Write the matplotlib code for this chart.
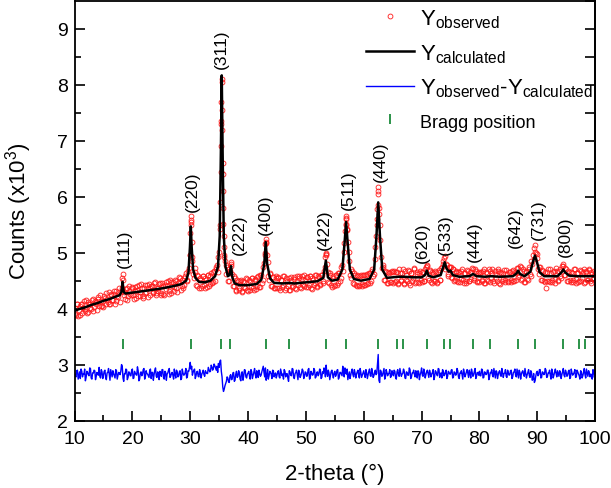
import numpy as np
import matplotlib
matplotlib.use('Agg')
import matplotlib.pyplot as plt
from matplotlib.lines import Line2D

plt.rcParams['font.family'] = ['Liberation Sans', 'DejaVu Sans']
plt.rcParams['mathtext.default'] = 'regular'

# observed pattern, 2-theta grid 10..100 step 0.25
obs_x = np.arange(10.0, 100.01, 0.25)
obs_y = [
    4.01, 3.89, 4.09, 3.97, 3.88, 4.08, 4.02, 3.96, 4.16, 3.94, 4.08, 4.02, 4.16, 3.95, 4.14, 4.08, 4.20, 4.04, 4.14, 4.04,
    4.03, 4.19, 4.28, 4.12, 4.08, 4.26, 4.16, 4.26, 4.09, 4.32, 4.21, 4.29, 4.29, 4.55, 4.30, 4.17, 4.36, 4.22, 4.40, 4.24,
    4.36, 4.17, 4.32, 4.41, 4.23, 4.30, 4.44, 4.22, 4.37, 4.28, 4.42, 4.20, 4.36, 4.41, 4.28, 4.46, 4.25, 4.36, 4.32, 4.45,
    4.28, 4.41, 4.24, 4.47, 4.40, 4.32, 4.51, 4.28, 4.47, 4.39, 4.50, 4.30, 4.47, 4.55, 4.40, 4.36, 4.54, 4.63, 4.52, 4.73,
    5.35, 5.20, 4.62, 4.72, 4.42, 4.60, 4.37, 4.55, 4.40, 4.58, 4.36, 4.52, 4.60, 4.41, 4.58, 4.45, 4.66, 4.50, 4.74, 4.66,
    5.02, 6.45, 7.55, 5.52, 4.85, 4.78, 4.50, 4.70, 4.84, 4.62, 4.40, 4.55, 4.33, 4.50, 4.34, 4.51, 4.30, 4.47, 4.36, 4.53,
    4.31, 4.50, 4.38, 4.55, 4.34, 4.52, 4.40, 4.58, 4.38, 4.60, 4.52, 4.82, 5.15, 4.95, 4.58, 4.62, 4.40, 4.57, 4.37, 4.55,
    4.37, 4.54, 4.33, 4.51, 4.42, 4.58, 4.36, 4.49, 4.55, 4.34, 4.52, 4.40, 4.57, 4.35, 4.49, 4.58, 4.38, 4.53, 4.42, 4.60,
    4.38, 4.56, 4.43, 4.59, 4.35, 4.52, 4.46, 4.61, 4.40, 4.57, 4.44, 4.60, 4.50, 4.75, 4.96, 4.66, 4.45, 4.60, 4.39, 4.55,
    4.42, 4.60, 4.45, 4.64, 4.55, 4.78, 5.02, 5.38, 5.60, 5.20, 4.85, 4.55, 4.68, 4.44, 4.61, 4.40, 4.58, 4.43, 4.60, 4.41,
    4.60, 4.42, 4.62, 4.45, 4.64, 4.50, 4.70, 4.62, 5.10, 5.50, 6.05, 5.50, 4.92, 4.78, 4.52, 4.68, 4.46, 4.65, 4.47, 4.66,
    4.46, 4.68, 4.49, 4.66, 4.44, 4.63, 4.52, 4.70, 4.45, 4.61, 4.50, 4.68, 4.43, 4.64, 4.54, 4.71, 4.47, 4.62, 4.45, 4.67,
    4.48, 4.66, 4.50, 4.74, 4.78, 4.52, 4.68, 4.45, 4.64, 4.49, 4.66, 4.47, 4.69, 4.52, 4.75, 4.86, 4.94, 4.80, 4.62, 4.74,
    4.75, 4.55, 4.70, 4.51, 4.66, 4.48, 4.65, 4.53, 4.70, 4.46, 4.63, 4.50, 4.68, 4.49, 4.66, 4.72, 4.55, 4.70, 4.49, 4.64,
    4.47, 4.66, 4.52, 4.70, 4.45, 4.63, 4.50, 4.68, 4.54, 4.71, 4.46, 4.62, 4.49, 4.67, 4.44, 4.64, 4.53, 4.69, 4.47, 4.62,
    4.49, 4.66, 4.51, 4.69, 4.50, 4.64, 4.72, 4.56, 4.76, 4.52, 4.70, 4.48, 4.66, 4.53, 4.75, 4.62, 4.86, 4.96, 5.08, 5.00,
    4.90, 4.62, 4.75, 4.52, 4.68, 4.48, 4.36, 4.66, 4.50, 4.70, 4.47, 4.65, 4.53, 4.72, 4.49, 4.68, 4.58, 4.76, 4.79, 4.60,
    4.70, 4.50, 4.66, 4.47, 4.64, 4.52, 4.70, 4.46, 4.63, 4.49, 4.68, 4.54, 4.71, 4.48, 4.65, 4.51, 4.69, 4.46, 4.62, 4.55,
    4.60,
]
# second set of observed points, between the grid above (10.125..99.875)
obs2_x = np.arange(10.125, 100.0, 0.25)
obs2_y = [
    3.91, 4.08, 3.86, 4.04, 4.08, 3.92, 4.14, 4.00, 3.93, 4.11, 4.08, 3.99, 4.18, 4.03, 4.12, 3.98, 4.18, 4.25, 4.05, 4.14,
    4.23, 4.08, 4.18, 4.29, 4.08, 4.24, 4.15, 4.31, 4.13, 4.23, 4.36, 4.12, 4.36, 4.52, 4.24, 4.35, 4.16, 4.32, 4.26, 4.39,
    4.24, 4.38, 4.19, 4.33, 4.43, 4.23, 4.37, 4.19, 4.42, 4.30, 4.37, 4.44, 4.24, 4.41, 4.30, 4.48, 4.28, 4.37, 4.44, 4.24,
    4.46, 4.27, 4.42, 4.35, 4.50, 4.27, 4.47, 4.41, 4.31, 4.52, 4.36, 4.45, 4.56, 4.33, 4.52, 4.43, 4.58, 4.50, 4.67, 4.95,
    5.55, 4.92, 4.55, 4.66, 4.40, 4.58, 4.52, 4.36, 4.59, 4.42, 4.55, 4.38, 4.61, 4.44, 4.63, 4.48, 4.68, 4.70, 4.78, 4.92,
    5.42, 7.35, 6.40, 4.92, 4.62, 4.75, 4.49, 4.68, 4.76, 4.41, 4.58, 4.32, 4.52, 4.36, 4.50, 4.31, 4.49, 4.38, 4.54, 4.33,
    4.52, 4.33, 4.55, 4.36, 4.53, 4.35, 4.57, 4.39, 4.60, 4.45, 4.74, 5.00, 5.18, 4.83, 4.52, 4.64, 4.41, 4.56, 4.36, 4.58,
    4.56, 4.36, 4.52, 4.39, 4.59, 4.34, 4.55, 4.41, 4.33, 4.57, 4.38, 4.53, 4.36, 4.58, 4.42, 4.55, 4.37, 4.59, 4.40, 4.52,
    4.57, 4.39, 4.58, 4.37, 4.55, 4.42, 4.60, 4.38, 4.59, 4.43, 4.61, 4.45, 4.68, 4.92, 4.80, 4.48, 4.63, 4.42, 4.59, 4.41,
    4.60, 4.43, 4.63, 4.49, 4.74, 4.68, 5.18, 5.52, 5.42, 5.02, 4.60, 4.70, 4.46, 4.63, 4.42, 4.60, 4.41, 4.59, 4.44, 4.61,
    4.42, 4.61, 4.44, 4.63, 4.46, 4.68, 4.58, 4.88, 5.30, 5.78, 5.70, 5.22, 4.72, 4.74, 4.52, 4.66, 4.45, 4.64, 4.48, 4.67,
    4.66, 4.47, 4.65, 4.45, 4.70, 4.49, 4.63, 4.44, 4.67, 4.52, 4.69, 4.46, 4.64, 4.50, 4.72, 4.45, 4.66, 4.48, 4.63, 4.51,
    4.66, 4.49, 4.70, 4.76, 4.55, 4.69, 4.47, 4.65, 4.50, 4.68, 4.46, 4.66, 4.52, 4.72, 4.80, 4.90, 4.70, 4.78, 4.58, 4.75,
    4.57, 4.70, 4.50, 4.67, 4.49, 4.66, 4.47, 4.68, 4.52, 4.64, 4.45, 4.69, 4.50, 4.66, 4.53, 4.71, 4.51, 4.67, 4.48, 4.65,
    4.64, 4.49, 4.68, 4.46, 4.65, 4.52, 4.70, 4.47, 4.63, 4.50, 4.67, 4.54, 4.71, 4.45, 4.66, 4.49, 4.64, 4.52, 4.69, 4.48,
    4.66, 4.48, 4.67, 4.50, 4.66, 4.52, 4.73, 4.60, 4.74, 4.53, 4.68, 4.47, 4.67, 4.51, 4.70, 4.58, 4.80, 4.88, 5.02, 4.98,
    4.70, 4.75, 4.52, 4.69, 4.49, 4.66, 4.50, 4.70, 4.47, 4.64, 4.52, 4.68, 4.46, 4.67, 4.51, 4.70, 4.55, 4.77, 4.60, 4.72,
    4.49, 4.68, 4.51, 4.66, 4.47, 4.70, 4.53, 4.64, 4.48, 4.69, 4.50, 4.66, 4.45, 4.67, 4.52, 4.70, 4.49, 4.65, 4.53, 4.68,
]
# extra observed points measured on the peak flanks
peak_obs_x = [18.30, 29.90, 30.05, 30.10, 30.15, 30.35, 35.15, 35.20, 35.30, 35.35, 35.40, 35.45, 35.48,
              35.55, 35.60, 35.65, 35.70, 35.80, 35.85, 35.90, 37.10, 42.90, 43.05, 43.10, 53.40, 53.45,
              56.85, 56.90, 56.95, 57.10, 62.35, 62.40, 62.45, 62.55, 62.60, 89.60]
peak_obs_y = [4.62, 4.95, 5.58, 5.66, 5.50, 4.85, 5.50, 5.90, 6.90, 7.30, 7.70, 8.05, 8.10,
              7.20, 6.60, 6.10, 5.80, 5.30, 5.10, 4.95, 4.80, 4.95, 5.25, 5.20, 4.98, 5.00,
              5.50, 5.66, 5.62, 5.40, 5.60, 5.85, 6.18, 6.10, 5.80, 5.13]

# calculated profile
calc_x = [10.0, 11.0, 12.0, 13.0, 14.0, 15.0, 16.0, 17.0, 17.8, 18.1, 18.3, 18.5, 18.8, 19.5, 21.0, 23.0,
          25.0, 27.0, 28.5, 29.3, 29.7, 29.95, 30.1, 30.25, 30.5, 30.9, 31.5, 32.5, 33.5, 34.3, 34.8,
          35.1, 35.3, 35.45, 35.6, 35.8, 36.1, 36.5, 36.8, 37.05, 37.3, 37.7, 38.5, 40.0, 41.5, 42.3,
          42.8, 43.05, 43.3, 43.8, 44.5, 46.0, 47.0, 48.0, 50.0, 52.0, 53.0, 53.45, 53.8, 54.5, 55.5,
          56.3, 56.7, 56.95, 57.2, 57.6, 58.3, 59.5, 61.0, 61.8, 62.2, 62.5, 62.8, 63.2, 64.0, 65.0,
          66.0, 67.0, 68.5, 70.0, 70.6, 70.9, 71.2, 72.0, 73.3, 73.75, 74.0, 74.3, 74.7, 75.0, 75.4,
          76.5, 78.3, 78.9, 79.5, 81.0, 82.0, 83.5, 85.8, 86.4, 86.7, 87.0, 87.8, 88.8, 89.3, 89.6,
          89.9, 90.4, 91.2, 93.5, 94.2, 94.5, 94.8, 95.5, 97.0, 100.0]
calc_y = [3.96, 4.00, 4.03, 4.07, 4.10, 4.14, 4.17, 4.21, 4.24, 4.30, 4.48, 4.30, 4.27, 4.28, 4.30, 4.33,
          4.36, 4.40, 4.44, 4.50, 4.65, 5.10, 5.47, 5.10, 4.70, 4.55, 4.48, 4.47, 4.50, 4.58, 4.75,
          5.30, 6.80, 8.17, 6.80, 5.30, 4.75, 4.58, 4.60, 4.76, 4.55, 4.45, 4.42, 4.42, 4.44, 4.52,
          4.80, 5.19, 4.80, 4.54, 4.46, 4.45, 4.46, 4.45, 4.47, 4.49, 4.55, 4.86, 4.56, 4.50, 4.52,
          4.70, 5.20, 5.55, 5.20, 4.70, 4.53, 4.50, 4.53, 4.70, 5.30, 5.90, 5.30, 4.70, 4.55, 4.56,
          4.57, 4.57, 4.56, 4.56, 4.60, 4.68, 4.59, 4.56, 4.60, 4.75, 4.83, 4.72, 4.66, 4.68, 4.60,
          4.57, 4.58, 4.62, 4.58, 4.57, 4.58, 4.57, 4.58, 4.63, 4.68, 4.62, 4.58, 4.66, 4.85, 4.95,
          4.85, 4.65, 4.58, 4.58, 4.65, 4.70, 4.65, 4.59, 4.58, 4.58]

# difference curve (offset), on obs_x and on obs2_x
diff_y = [
    2.84, 2.78, 2.90, 2.81, 2.75, 2.88, 2.83, 2.92, 2.77, 2.86, 2.80, 2.93, 2.74, 2.85, 2.89, 2.79, 2.83, 2.95, 2.76, 2.87,
    2.81, 2.90, 2.73, 2.86, 2.82, 2.91, 2.78, 2.84, 2.76, 2.89, 2.80, 2.85, 2.88, 2.97, 2.70, 2.83, 2.91, 2.77, 2.86, 2.80,
    2.92, 2.76, 2.85, 2.81, 2.89, 2.74, 2.87, 2.83, 2.93, 2.78, 2.84, 2.80, 2.90, 2.75, 2.86, 2.82, 2.94, 2.77, 2.85, 2.88,
    2.79, 2.91, 2.74, 2.86, 2.83, 2.90, 2.77, 2.84, 2.81, 2.92, 2.76, 2.87, 2.80, 2.89, 2.75, 2.85, 2.82, 2.93, 2.78, 2.88,
    3.04, 2.97, 2.86, 2.92, 2.80, 2.88, 2.78, 2.85, 2.83, 2.90, 2.79, 2.86, 2.84, 2.91, 2.88, 2.96, 2.93, 2.98, 2.90, 2.86,
    2.95, 3.08, 2.78, 2.52, 2.62, 2.70, 2.76, 2.68, 2.82, 2.74, 2.86, 2.72, 2.88, 2.79, 2.84, 2.71, 2.87, 2.80, 2.90, 2.76,
    2.85, 2.79, 2.91, 2.75, 2.86, 2.82, 2.89, 2.77, 2.84, 2.81, 2.92, 2.86, 2.94, 2.80, 2.74, 2.88, 2.83, 2.90, 2.78, 2.85,
    2.81, 2.89, 2.76, 2.86, 2.83, 2.91, 2.78, 2.84, 2.70, 2.87, 2.80, 2.92, 2.75, 2.86, 2.82, 2.90, 2.77, 2.85, 2.89, 2.79,
    2.86, 2.80, 2.93, 2.76, 2.85, 2.82, 2.90, 2.78, 2.87, 2.83, 2.91, 2.77, 2.84, 2.88, 2.99, 2.79, 2.85, 2.81, 2.90, 2.76,
    2.88, 2.82, 2.91, 2.77, 2.86, 2.80, 2.89, 2.94, 2.83, 2.73, 2.87, 2.81, 2.92, 2.78, 2.85, 2.83, 2.90, 2.76, 2.86, 2.81,
    2.89, 2.77, 2.85, 2.82, 2.92, 2.79, 2.86, 2.80, 2.90, 2.84, 3.18, 2.68, 2.88, 2.81, 2.93, 2.78, 2.86, 2.83, 2.91, 2.79,
    2.85, 2.90, 2.77, 2.87, 2.82, 2.93, 2.79, 2.84, 2.88, 2.75, 2.86, 2.81, 2.91, 2.78, 2.85, 2.83, 2.89, 2.76, 2.87, 2.82,
    2.94, 2.79, 2.86, 2.82, 2.90, 2.77, 2.85, 2.83, 2.91, 2.78, 2.87, 2.80, 2.92, 2.84, 2.76, 2.88, 2.82, 2.90, 2.79, 2.86,
    2.83, 2.91, 2.77, 2.86, 2.82, 2.89, 2.75, 2.85, 2.81, 2.92, 2.78, 2.87, 2.84, 2.90, 2.76, 2.86, 2.82, 2.93, 2.79, 2.85,
    2.88, 2.80, 2.91, 2.77, 2.86, 2.83, 2.90, 2.78, 2.85, 2.81, 2.93, 2.76, 2.87, 2.82, 2.89, 2.79, 2.86, 2.84, 2.91, 2.77,
    2.85, 2.82, 2.90, 2.78, 2.87, 2.81, 2.92, 2.76, 2.86, 2.83, 2.89, 2.79, 2.85, 2.82, 2.91, 2.77, 2.86, 2.74, 2.68, 2.80,
    2.88, 2.82, 2.91, 2.77, 2.86, 2.83, 2.90, 2.78, 2.85, 2.81, 2.92, 2.76, 2.87, 2.84, 2.89, 2.79, 2.86, 2.82, 2.93, 2.78,
    2.86, 2.81, 2.90, 2.77, 2.85, 2.83, 2.91, 2.78, 2.87, 2.80, 2.89, 2.76, 2.86, 2.82, 2.92, 2.79, 2.85, 2.83, 2.74, 2.88,
    2.84,
]
diff2_y = [
    2.80, 2.89, 2.74, 2.87, 2.92, 2.78, 2.83, 2.71, 2.88, 2.82, 2.94, 2.76, 2.85, 2.90, 2.73, 2.86, 2.81, 2.79, 2.91, 2.75,
    2.88, 2.77, 2.85, 2.93, 2.72, 2.84, 2.89, 2.80, 2.91, 2.74, 2.86, 2.82, 3.00, 2.76, 2.84, 2.92, 2.73, 2.87, 2.80, 2.90,
    2.75, 2.88, 2.82, 2.96, 2.71, 2.85, 2.80, 2.91, 2.74, 2.89, 2.83, 2.77, 2.92, 2.86, 2.72, 2.90, 2.79, 2.87, 2.73, 2.84,
    2.91, 2.77, 2.88, 2.72, 2.85, 2.93, 2.79, 2.86, 2.74, 2.83, 2.90, 2.78, 2.87, 2.73, 2.92, 2.81, 2.86, 2.76, 2.89, 2.95,
    2.92, 2.81, 2.90, 2.75, 2.87, 2.79, 2.91, 2.76, 2.86, 2.82, 2.89, 2.84, 2.95, 2.87, 2.99, 2.90, 3.01, 2.94, 2.97, 3.02,
    3.06, 2.88, 2.60, 2.56, 2.66, 2.78, 2.69, 2.80, 2.73, 2.85, 2.70, 2.83, 2.77, 2.89, 2.74, 2.86, 2.72, 2.91, 2.78, 2.83,
    2.88, 2.74, 2.87, 2.81, 2.93, 2.76, 2.85, 2.90, 2.79, 2.87, 2.97, 2.78, 2.72, 2.91, 2.80, 2.86, 2.75, 2.89, 2.82, 2.76,
    2.87, 2.78, 2.92, 2.80, 2.74, 2.88, 2.83, 2.76, 2.89, 2.81, 2.93, 2.77, 2.84, 2.90, 2.73, 2.86, 2.80, 2.92, 2.75, 2.87,
    2.79, 2.91, 2.74, 2.88, 2.81, 2.93, 2.76, 2.86, 2.80, 2.92, 2.75, 2.87, 2.94, 2.78, 2.84, 2.90, 2.73, 2.88, 2.82, 2.85,
    2.79, 2.90, 2.74, 2.86, 2.83, 2.97, 2.78, 2.86, 2.92, 2.80, 2.75, 2.88, 2.82, 2.91, 2.76, 2.87, 2.80, 2.93, 2.77, 2.85,
    2.82, 2.91, 2.75, 2.88, 2.80, 2.93, 2.77, 2.86, 2.82, 3.02, 2.72, 2.90, 2.79, 2.87, 2.74, 2.91, 2.80, 2.85, 2.77, 2.89,
    2.80, 2.88, 2.74, 2.91, 2.79, 2.86, 2.83, 2.92, 2.76, 2.87, 2.81, 2.94, 2.75, 2.85, 2.90, 2.78, 2.84, 2.89, 2.73, 2.86,
    2.81, 2.92, 2.76, 2.87, 2.83, 2.90, 2.78, 2.86, 2.73, 2.89, 2.82, 2.93, 2.77, 2.85, 2.91, 2.80, 2.87, 2.75, 2.88, 2.83,
    2.90, 2.76, 2.87, 2.81, 2.93, 2.78, 2.85, 2.89, 2.74, 2.86, 2.82, 2.91, 2.77, 2.84, 2.92, 2.79, 2.88, 2.75, 2.86, 2.81,
    2.80, 2.92, 2.76, 2.87, 2.82, 2.90, 2.73, 2.86, 2.91, 2.78, 2.84, 2.89, 2.75, 2.87, 2.81, 2.93, 2.77, 2.85, 2.79, 2.90,
    2.81, 2.89, 2.75, 2.86, 2.92, 2.78, 2.84, 2.90, 2.74, 2.87, 2.82, 2.93, 2.76, 2.86, 2.80, 2.89, 2.72, 2.84, 2.71, 2.86,
    2.80, 2.91, 2.76, 2.87, 2.82, 2.93, 2.77, 2.85, 2.90, 2.74, 2.86, 2.81, 2.92, 2.78, 2.84, 2.89, 2.75, 2.87, 2.81, 2.90,
    2.79, 2.88, 2.75, 2.92, 2.81, 2.86, 2.77, 2.90, 2.83, 2.74, 2.87, 2.80, 2.93, 2.76, 2.85, 2.89, 2.78, 2.82, 2.91, 2.77,
]

bragg_x = [18.30, 30.07, 35.31, 36.92, 43.04, 47.07, 53.42, 56.93, 62.47, 65.70, 66.74, 70.89,
           73.93, 74.97, 78.90, 81.84, 86.73, 89.62, 94.46, 97.29, 98.32]
bragg_level = 3.37

hkl_labels = ['(111)', '(220)', '(311)', '(222)', '(400)', '(422)', '(511)', '(440)',
              '(620)', '(533)', '(444)', '(642)', '(731)', '(800)']
hkl_x = [18.55, 30.34, 35.43, 38.42, 42.92, 53.24, 57.39, 62.93, 70.08, 74.17, 79.19, 86.28, 90.14, 94.93]
hkl_y = [4.74, 5.74, 8.30, 4.98, 5.33, 5.07, 5.78, 6.29, 4.83, 4.98, 4.86, 5.10, 5.25, 4.94]

# merge both difference sets into one line ordered by 2-theta
diff_x = np.empty(len(obs_x) + len(obs2_x))
diff_x[0::2] = obs_x
diff_x[1::2] = obs2_x
diff_all = np.empty(len(diff_x))
diff_all[0::2] = diff_y
diff_all[1::2] = diff2_y

red = '#ff1a1a'
green = '#1a8a3a'

fig = plt.figure(figsize=(6.11, 4.89), dpi=100)
ax = fig.add_axes([0.122, 0.138, 0.852, 0.858])

ax.plot(obs_x, obs_y, 'o', ms=3.5, mfc='none', mec=red, mew=0.6, zorder=2)
ax.plot(obs2_x, obs2_y, 'o', ms=3.5, mfc='none', mec=red, mew=0.6, zorder=2)
ax.plot(peak_obs_x, peak_obs_y, 'o', ms=3.5, mfc='none', mec=red, mew=0.6, zorder=2)
ax.plot(calc_x, calc_y, '-', color='black', lw=1.8, zorder=3)
ax.plot(diff_x, diff_all, '-', color='#0000ff', lw=1.0, zorder=2)
ax.plot(bragg_x, [bragg_level] * len(bragg_x), '|', color=green, ms=7, mew=1.3, zorder=2)

for lab, x, y in zip(hkl_labels, hkl_x, hkl_y):
    ax.text(x, y, lab, rotation=90, ha='center', va='bottom', fontsize=12.5)

ax.set_xlim(10, 100)
ax.set_ylim(2, 9.5)
ax.set_xticks(np.arange(10, 101, 10))
ax.set_xticks(np.arange(15, 100, 10), minor=True)
ax.set_yticks(np.arange(2, 10, 1))
ax.set_yticks(np.arange(2.5, 9.5, 1), minor=True)
ax.tick_params(which='both', direction='in', top=False, right=False, labelsize=14, width=1.2)
ax.tick_params(which='major', length=7)
ax.tick_params(axis='x', which='both', pad=7)
ax.tick_params(axis='y', which='both', pad=5)
ax.tick_params(which='minor', length=4)
for s in ax.spines.values():
    s.set_linewidth(1.3)

sec = ax.secondary_yaxis('right')
sec.set_yticks(np.arange(2, 9.6, 0.5))
sec.tick_params(direction='in', length=7, width=1.2, labelright=False)
sec.spines['right'].set_linewidth(1.3)

ax.set_xlabel('2-theta (°)', fontsize=16, labelpad=11)
ax.set_ylabel('Counts (x10$^3$)', fontsize=16, labelpad=16)

handles = [
    Line2D([], [], ls='none', marker='o', ms=3.5, mfc='none', mec=red, mew=0.6),
    Line2D([], [], color='black', lw=1.8),
    Line2D([], [], color='#0000ff', lw=1.0),
    Line2D([], [], ls='none', marker='|', color=green, ms=7, mew=1.3),
]
labels = ['Y$_{observed}$', 'Y$_{calculated}$', 'Y$_{observed}$-Y$_{calculated}$', 'Bragg position']
leg = ax.legend(handles, labels, loc='upper right', bbox_to_anchor=(0.997, 0.985), frameon=False,
                fontsize=16, handlelength=2.15, handletextpad=0.3, labelspacing=0.55,
                borderaxespad=0, borderpad=0)
leg.get_texts()[3].set_fontsize(13)

fig.savefig('out.png', dpi=100)
